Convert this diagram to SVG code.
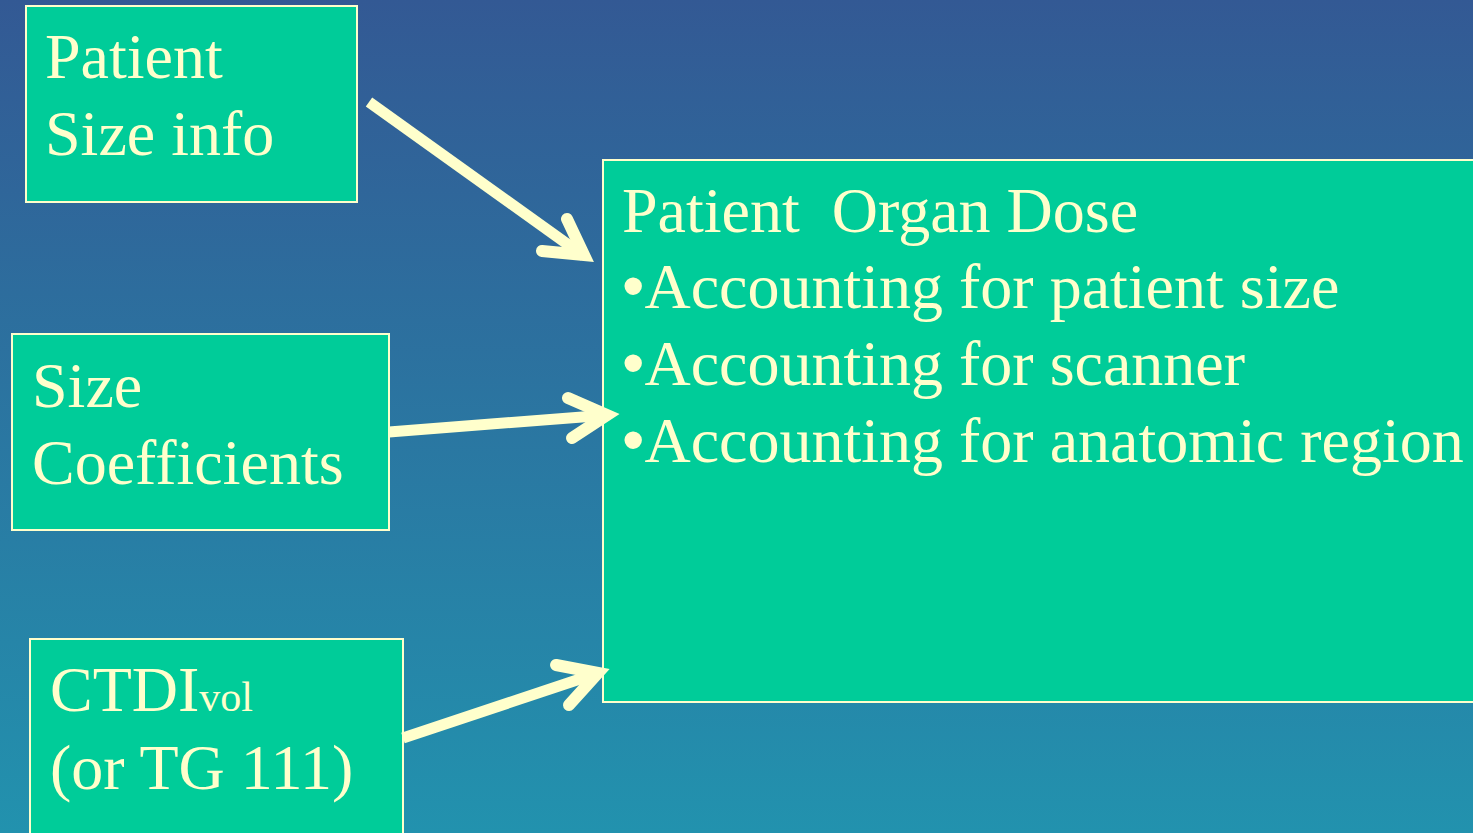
<svg xmlns="http://www.w3.org/2000/svg" width="1473" height="833" viewBox="0 0 1473 833">
  <defs>
    <linearGradient id="bg" x1="0" y1="0" x2="0" y2="1">
      <stop offset="0" stop-color="#335994"/>
      <stop offset="1" stop-color="#2292AE"/>
    </linearGradient>
    <style>
      .box { fill: #00CC99; stroke: #FFFFCC; stroke-width: 2; }
      .txt { font-family: "Liberation Serif", "Times New Roman", serif; font-size: 64px; fill: #FFFFCC; white-space: pre; }
      .sub { font-size: 42px; }
      .bul { font-family: "Liberation Sans", Arial, sans-serif; }
      .shaft { stroke: #FFFFCC; stroke-width: 11; fill: none; stroke-linecap: butt; }
      .head { stroke: #FFFFCC; stroke-width: 12; fill: none; stroke-linecap: round; stroke-linejoin: miter; stroke-miterlimit: 10; }
    </style>
  </defs>

  <rect x="0" y="0" width="1473" height="833" fill="url(#bg)"/>

  <g id="patient-size-info">
    <rect class="box" x="26" y="6" width="331" height="196"/>
    <text class="txt" x="45" y="78">Patient</text>
    <text class="txt" x="45" y="155">Size info</text>
  </g>

  <g id="size-coefficients">
    <rect class="box" x="12" y="334" width="377" height="196"/>
    <text class="txt" x="32" y="407">Size</text>
    <text class="txt" x="32" y="484">Coefficients</text>
  </g>

  <g id="ctdi-vol">
    <rect class="box" x="30" y="639" width="373" height="210"/>
    <text class="txt" x="50" y="711">CTDI<tspan class="sub">vol</tspan></text>
    <text class="txt" x="50" y="789">(or TG 111)</text>
  </g>

  <g id="patient-organ-dose">
    <rect class="box" x="603" y="160" width="880" height="542"/>
    <text class="txt" x="622" y="232">Patient  Organ Dose</text>
    <text class="txt" x="622" y="308"><tspan class="bul">•</tspan>Accounting for patient size</text>
    <text class="txt" x="622" y="385"><tspan class="bul">•</tspan>Accounting for scanner</text>
    <text class="txt" x="622" y="462"><tspan class="bul">•</tspan>Accounting for anatomic region</text>
  </g>

  <g id="connectors">
    <line class="shaft" x1="369" y1="102" x2="584" y2="256"/>
    <path class="head" d="M567 219 L584 255 L542 251"/>

    <line class="shaft" x1="389" y1="432" x2="608" y2="415"/>
    <path class="head" d="M568 398 L607 415 L572 438"/>

    <line class="shaft" x1="403" y1="738" x2="598" y2="673"/>
    <path class="head" d="M556 665 L598 673 L569 705"/>
  </g>
</svg>
